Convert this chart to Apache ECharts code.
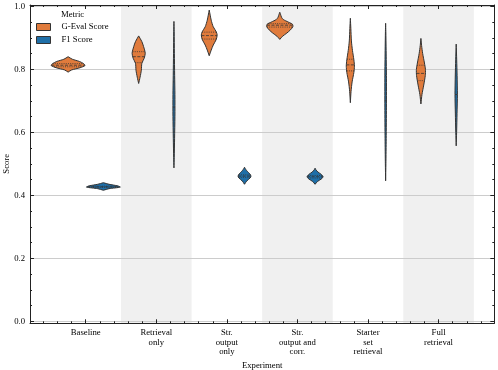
<!DOCTYPE html>
<html>
<head>
<meta charset="utf-8">
<script src="https://cdn.jsdelivr.net/npm/echarts@6/dist/echarts.min.js"></script>
<style>
  html, body { margin: 0; padding: 0; background: #fff; }
  #chart { width: 498px; height: 370px; }
</style>
</head>
<body>
<div id="chart"></div>
<script>
var myChart = echarts.init(document.getElementById('chart'));

var categories = ['Baseline', 'Retrieval\nonly', 'Str.\noutput\nonly', 'Str.\noutput and\ncorr.', 'Starter\nset\nretrieval', 'Full\nretrieval'];
var shadedCategories = [1, 3, 5];
var metrics = ['G-Eval Score', 'F1 Score'];

// violin outlines: [score, half width in category units]
var gevalShapes = [
    [[0.791, 0], [0.798, 0.05], [0.805, 0.17], [0.812, 0.24], [0.818, 0.22], [0.825, 0.16], [0.832, 0.06], [0.840, 0]],
    [[0.755, 0], [0.775, 0.02], [0.797, 0.038], [0.819, 0.045], [0.835, 0.078], [0.851, 0.093], [0.872, 0.07], [0.888, 0.045], [0.906, 0]],
    [[0.843, 0], [0.861, 0.028], [0.877, 0.057], [0.895, 0.1], [0.909, 0.112], [0.919, 0.1], [0.935, 0.057], [0.956, 0.028], [0.988, 0]],
    [[0.895, 0], [0.905, 0.04], [0.915, 0.10], [0.925, 0.15], [0.935, 0.185], [0.943, 0.18], [0.950, 0.12], [0.958, 0.05], [0.965, 0.025], [0.975, 0.01], [0.981, 0]],
    [[0.694, 0], [0.73, 0.01], [0.76, 0.025], [0.79, 0.05], [0.81, 0.058], [0.83, 0.05], [0.86, 0.03], [0.89, 0.015], [0.93, 0.007], [0.962, 0]],
    [[0.690, 0], [0.72, 0.015], [0.75, 0.04], [0.78, 0.062], [0.80, 0.064], [0.82, 0.05], [0.85, 0.025], [0.875, 0.01], [0.898, 0]]
];
var f1Shapes = [
    [[0.416, 0], [0.421, 0.08], [0.426, 0.24], [0.430, 0.2], [0.435, 0.08], [0.440, 0]],
    [[0.487, 0], [0.52, 0.004], [0.58, 0.009], [0.65, 0.014], [0.72, 0.014], [0.78, 0.01], [0.85, 0.006], [0.92, 0.003], [0.952, 0]],
    [[0.435, 0], [0.445, 0.03], [0.455, 0.08], [0.461, 0.092], [0.468, 0.075], [0.476, 0.04], [0.483, 0.015], [0.489, 0]],
    [[0.435, 0], [0.444, 0.035], [0.452, 0.09], [0.459, 0.113], [0.466, 0.09], [0.474, 0.04], [0.481, 0.012], [0.486, 0]],
    [[0.446, 0], [0.50, 0.004], [0.58, 0.008], [0.68, 0.011], [0.78, 0.011], [0.86, 0.007], [0.92, 0.003], [0.946, 0]],
    [[0.557, 0], [0.60, 0.006], [0.66, 0.012], [0.72, 0.017], [0.78, 0.013], [0.83, 0.007], [0.880, 0]]
];
// q1, median, q3
var gevalQuartiles = [
    [0.808, 0.813, 0.818], [0.821, 0.840, 0.856], [0.896, 0.907, 0.918],
    [0.934, 0.940, 0.945], [0.795, 0.814, 0.832], [0.764, 0.787, 0.813]
];
var f1Quartiles = [
    [0.425, 0.427, 0.429], [0.60, 0.68, 0.76], [0.457, 0.461, 0.465],
    [0.455, 0.459, 0.463], [0.62, 0.70, 0.78], [0.66, 0.72, 0.78]
];

var colors = ['#E07B3C', '#1F6FA8'];
var edge = '#333333';
var font = 'Liberation Serif';
var fs = 8.7;
var groupOffset = 0.25;

var majorX = categories.map(function (c, i) { return i; });
var minorX = [];
for (var k = -3; k <= 29; k++) {
    if (k % 5 !== 0) minorX.push(k / 5);
}

function widthAt(shape, v) {
    for (var i = 1; i < shape.length; i++) {
        if (v <= shape[i][0]) {
            var a = shape[i - 1], b = shape[i];
            var t = (v - a[0]) / (b[0] - a[0]);
            return a[1] + t * (b[1] - a[1]);
        }
    }
    return 0;
}

function makeViolin(shapes, quarts, grp) {
    return function (params, api) {
        var cat = api.value(0);
        var shape = shapes[cat];
        var cx = cat + (grp === 0 ? -groupOffset : groupOffset);
        var pts = [];
        shape.forEach(function (p) { pts.push(api.coord([cx + p[1], p[0]])); });
        shape.slice().reverse().forEach(function (p) { pts.push(api.coord([cx - p[1], p[0]])); });
        var children = [{
            type: 'polygon',
            shape: { points: pts, smooth: 0.25 },
            style: { fill: colors[grp], stroke: edge, lineWidth: 1 }
        }];
        quarts[cat].forEach(function (q, i) {
            var w = widthAt(shape, q);
            var a = api.coord([cx - w, q]), b = api.coord([cx + w, q]);
            children.push({
                type: 'line',
                shape: { x1: a[0], y1: a[1], x2: b[0], y2: b[1] },
                style: { stroke: edge, lineWidth: 0.8, lineDash: i === 1 ? [3, 1.5] : [1, 1.2] }
            });
        });
        return { type: 'group', children: children };
    };
}

var xBase = {
    type: 'value', min: -0.79, max: 5.79, gridIndex: 1, z: 5,
    axisLine: { show: false, onZero: false },
    splitLine: { show: false },
    axisLabel: { show: false }
};

var option = {
    animation: false,
    title: {
        text: 'Metric', left: 61, top: 10, padding: 0,
        textStyle: { fontFamily: font, fontSize: fs, fontWeight: 'normal', color: '#000' }
    },
    legend: {
        orient: 'vertical', left: 36, top: 22, padding: 0,
        itemWidth: 14, itemHeight: 7, itemGap: 3,
        selectedMode: false,
        textStyle: { fontFamily: font, fontSize: fs, color: '#000', lineHeight: 10, padding: [0, 0, 0, 6] },
        data: metrics.map(function (m, i) {
            return { name: m, icon: 'rect', itemStyle: { color: colors[i], borderColor: edge, borderWidth: 1 } };
        })
    },
    grid: [
        { left: 30, right: 3.7, top: 6.3, bottom: 48.7, containLabel: false, outerBoundsMode: 'none' },
        { left: 30, right: 3.7, top: 5, bottom: 46.7, containLabel: false, outerBoundsMode: 'none' }
    ],
    xAxis: [
        {
            type: 'value', min: -0.79, max: 5.79, gridIndex: 0,
            axisLine: { show: false, onZero: false }, axisTick: { show: false },
            axisLabel: { show: false }, splitLine: { show: false }
        },
        Object.assign({}, xBase, {
            position: 'bottom',
            axisLine: { show: true, onZero: false, lineStyle: { color: '#222', width: 1 } },
            axisTick: { show: true, inside: true, length: 4, customValues: majorX, lineStyle: { color: '#222' } },
            axisLabel: {
                show: true, customValues: majorX, margin: 5,
                fontFamily: font, fontSize: fs, lineHeight: 9.3, color: '#000',
                formatter: function (v) { return categories[Math.round(v)]; }
            },
            name: 'Experiment', nameLocation: 'middle', nameGap: 31,
            nameTextStyle: { fontFamily: font, fontSize: fs, color: '#000' }
        }),
        Object.assign({}, xBase, {
            position: 'bottom',
            axisTick: { show: true, inside: true, length: 2, customValues: minorX, lineStyle: { color: '#222' } }
        }),
        Object.assign({}, xBase, {
            position: 'top',
            axisLine: { show: true, onZero: false, lineStyle: { color: '#222', width: 1 } },
            axisTick: { show: true, inside: true, length: 4, customValues: majorX, lineStyle: { color: '#222' } }
        }),
        Object.assign({}, xBase, {
            position: 'top',
            axisTick: { show: true, inside: true, length: 2, customValues: minorX, lineStyle: { color: '#222' } }
        })
    ],
    yAxis: [
        {
            type: 'value', min: 0, max: 1, interval: 0.2, gridIndex: 0, z: 1,
            position: 'left',
            axisLine: { show: false, onZero: false },
            axisTick: { show: true, inside: true, length: 4, lineStyle: { color: '#222' } },
            minorTick: { show: true, splitNumber: 4, length: 2, lineStyle: { color: '#222' } },
            splitLine: { show: true, lineStyle: { color: '#cccccc', width: 1 } },
            axisLabel: {
                margin: 5, fontFamily: font, fontSize: fs, color: '#000',
                formatter: function (v) { return v.toFixed(1); }
            },
            name: 'Score', nameLocation: 'middle', nameGap: 19, nameMoveOverlap: false,
            nameTextStyle: { fontFamily: font, fontSize: fs, color: '#000' }
        },
        {
            type: 'value', min: 0, max: 1, interval: 0.2, gridIndex: 0, z: 5,
            position: 'right',
            axisLine: { show: false, onZero: false },
            axisTick: { show: true, inside: true, length: 4, lineStyle: { color: '#222' } },
            minorTick: { show: true, splitNumber: 4, length: 2, lineStyle: { color: '#222' } },
            splitLine: { show: false },
            axisLabel: { show: false }
        },
        {
            type: 'value', min: 0, max: 1, gridIndex: 1, z: 5, position: 'left',
            axisLine: { show: true, onZero: false, lineStyle: { color: '#222', width: 1 } },
            axisTick: { show: false }, axisLabel: { show: false }, splitLine: { show: false }
        },
        {
            type: 'value', min: 0, max: 1, gridIndex: 1, z: 5, position: 'right',
            axisLine: { show: true, onZero: false, lineStyle: { color: '#222', width: 1 } },
            axisTick: { show: false }, axisLabel: { show: false }, splitLine: { show: false }
        }
    ],
    series: [
        {
            type: 'custom', name: 'bands', xAxisIndex: 1, yAxisIndex: 2, z: 0, silent: true,
            data: shadedCategories.map(function (c) { return [c]; }),
            renderItem: function (params, api) {
                var c = api.value(0);
                var a = api.coord([c - 0.5, 1]), b = api.coord([c + 0.5, 0]);
                return { type: 'rect', shape: { x: a[0], y: a[1], width: b[0] - a[0], height: b[1] - a[1] }, style: { fill: '#f0f0f0' } };
            }
        },
        {
            type: 'custom', name: metrics[0], xAxisIndex: 0, yAxisIndex: 0, z: 2,
            itemStyle: { color: colors[0] },
            data: gevalQuartiles.map(function (q, i) { return [i, q[1]]; }),
            renderItem: makeViolin(gevalShapes, gevalQuartiles, 0)
        },
        {
            type: 'custom', name: metrics[1], xAxisIndex: 0, yAxisIndex: 0, z: 2,
            itemStyle: { color: colors[1] },
            data: f1Quartiles.map(function (q, i) { return [i, q[1]]; }),
            renderItem: makeViolin(f1Shapes, f1Quartiles, 1)
        }
    ]
};
myChart.setOption(option);
</script>
</body>
</html>
